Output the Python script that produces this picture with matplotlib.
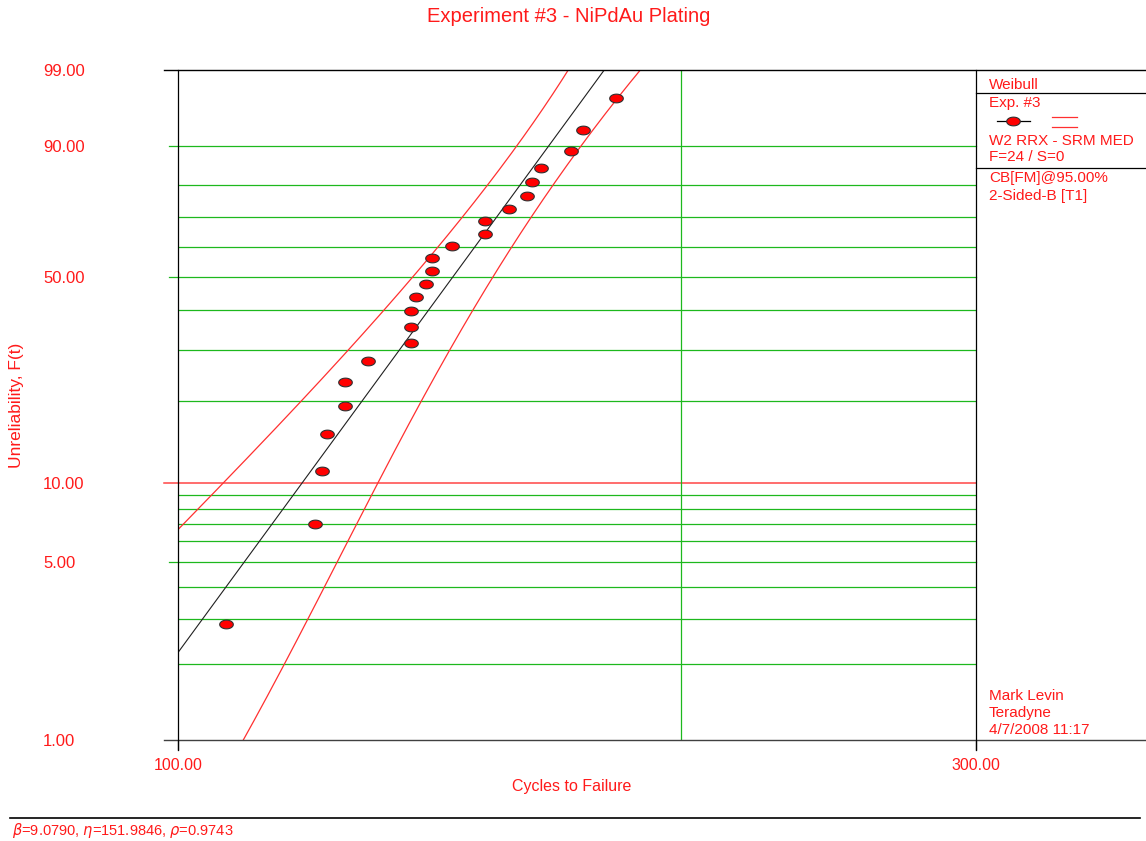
import numpy as np
import matplotlib
matplotlib.use("Agg")
import matplotlib.pyplot as plt
from matplotlib.lines import Line2D
from matplotlib.path import Path
from matplotlib.ticker import NullLocator, FixedLocator

# --- data -------------------------------------------------------------
failure_cycles = [106.8, 120.8, 121.9, 122.8, 125.8, 125.8, 129.9, 137.8,
                  137.8, 137.8, 138.8, 140.7, 141.8, 141.8, 145.9, 152.7,
                  152.7, 157.8, 161.7, 162.9, 164.8, 171.8, 174.7, 182.8]
median_rank_pct = [2.87, 6.97, 11.07, 15.16, 19.26, 23.36, 27.46, 31.56,
                   35.66, 39.75, 43.85, 47.95, 52.05, 56.15, 60.25, 64.34,
                   68.44, 72.54, 76.64, 80.74, 84.84, 88.93, 93.03, 97.13]

beta = 9.0790
eta = 151.9846
rho = 0.9743

# 95% two-sided Fisher-matrix confidence bounds
upper_cb_cycles = [99.3, 100.0, 106.7, 109.9, 112.7, 118.3, 126.1, 138.6,
                   148.1, 159.4, 170.8, 171.6]
upper_cb_pct = [6.40, 6.69, 10.03, 12.2, 14.46, 19.9, 29.6, 52.3, 68.9,
                89.8, 98.9, 99.16]
lower_cb_cycles = [109.1, 109.5, 115.6, 119.4, 124.4, 131.8, 136.1, 139.9,
                   145.4, 154.0, 162.0, 167.3, 179.6, 188.5, 189.5]
lower_cb_pct = [0.96, 1.0, 2.0, 2.99, 4.96, 10.0, 14.46, 19.9, 29.9, 50.1,
                68.9, 80.5, 94.3, 98.9, 99.16]

y_tick_pct = [1, 5, 10, 50, 90, 99]
y_tick_labels = ["1.00", "5.00", "10.00", "50.00", "90.00", "99.00"]
x_tick_vals = [100, 300]
x_tick_labels = ["100.00", "300.00"]
minor_grid_pct = [2, 3, 4, 6, 7, 8, 9, 20, 30, 40, 60, 70, 80]
major_grid_pct = [5, 50, 90]

legend_top = ["Weibull", "Exp. #3"]
legend_mid = ["W2 RRX - SRM MED", "F=24 / S=0"]
legend_cb = ["CB[FM]@95.00%", "2-Sided-B [T1]"]
legend_user = ["Mark Levin", "Teradyne", "4/7/2008 11:17"]

# --- style ------------------------------------------------------------
RED = "#FF1A1A"
GREEN = "#1DB81D"
FONT = "Liberation Sans"
plt.rcParams["font.family"] = [FONT, "DejaVu Sans"]

W, H = 1146, 841
fig = plt.figure(figsize=(W / 100, H / 100), dpi=100)
fig.patch.set_facecolor("white")

AX_L, AX_R, AX_T, AX_B = 178, 976, 70, 740
ax = fig.add_axes([AX_L / W, 1 - AX_B / H, (AX_R - AX_L) / W, (AX_B - AX_T) / H])


def fx(px):
    return px / W


def fy(py):
    return 1 - py / H


def fig_line(x0, y0, x1, y1, **kw):
    fig.add_artist(Line2D([fx(x0), fx(x1)], [fy(y0), fy(y1)],
                          transform=fig.transFigure, **kw))


# Weibull probability scale for unreliability (percent)
def weib_fwd(p):
    p = np.clip(np.asarray(p, dtype=float), 1e-6, 100 - 1e-6) / 100.0
    return np.log(-np.log(1.0 - p))


def weib_inv(w):
    return 100.0 * (1.0 - np.exp(-np.exp(np.asarray(w, dtype=float))))


ax.set_xscale("log")
ax.set_yscale("function", functions=(weib_fwd, weib_inv))
ax.set_xlim(100, 300)
ax.set_ylim(1, 99)

for s in ax.spines.values():
    s.set_visible(False)

# gridlines
ytr = ax.get_yaxis_transform()
for p in minor_grid_pct:
    ax.plot([0, 1], [p, p], transform=ytr, color=GREEN, lw=0.9, zorder=1)
for p in major_grid_pct:
    ax.plot([-9 / 798, 1], [p, p], transform=ytr, color=GREEN, lw=0.9,
            zorder=1, clip_on=False)
ax.plot([-14 / 798, 1], [10, 10], transform=ytr, color="#FF4545", lw=1.1,
        zorder=1, clip_on=False)
ax.axvline(200, color=GREEN, lw=0.9, zorder=1)

# fitted Weibull line
t_fit = np.geomspace(95, 200, 200)
f_fit = 100 * (1 - np.exp(-(t_fit / eta) ** beta))
ax.plot(t_fit, f_fit, color="#202020", lw=0.8, zorder=3)


# confidence bounds, smoothed in probability-paper coordinates
def smooth_bound(cycles, pct, deg=3):
    w = weib_fwd(pct)
    lt = np.log(cycles)
    coef = np.polyfit(w, lt, deg)
    ws = np.linspace(w.min(), w.max(), 200)
    return np.exp(np.polyval(coef, ws)), weib_inv(ws)


ux, uy = smooth_bound(upper_cb_cycles, upper_cb_pct)
lx, ly = smooth_bound(lower_cb_cycles, lower_cb_pct)
ax.plot(ux, uy, color="#FF3030", lw=0.9, zorder=3)
ax.plot(lx, ly, color="#FF3030", lw=0.9, zorder=3)

# data points (ellipse markers)
th = np.linspace(0, 2 * np.pi, 41)
ellipse = Path(np.column_stack([np.cos(th), 0.64 * np.sin(th)]), closed=True)
ax.plot(failure_cycles, median_rank_pct, linestyle="none", marker=ellipse,
        markersize=9.8, markerfacecolor="#FF0000", markeredgecolor="#303030",
        markeredgewidth=0.8, zorder=4)

# ticks
ax.xaxis.set_major_locator(FixedLocator(x_tick_vals))
ax.xaxis.set_minor_locator(NullLocator())
ax.set_xticklabels(x_tick_labels)
ax.yaxis.set_major_locator(FixedLocator(y_tick_pct))
ax.yaxis.set_minor_locator(NullLocator())
ax.set_yticklabels(y_tick_labels)
ax.tick_params(axis="x", length=7, width=0.9, color="black", pad=6,
               labelcolor=RED, labelsize=11.5)
ax.tick_params(axis="y", length=0, pad=(AX_L - 43) * 0.72, labelcolor=RED,
               labelsize=12)
for lab in ax.get_yticklabels():
    lab.set_horizontalalignment("left")

# frame lines
fig_line(164, AX_T, W, AX_T, color="black", lw=1.0)
fig_line(164, AX_B, W, AX_B, color="#404040", lw=1.0)
fig_line(AX_L, AX_T, AX_L, 750, color="black", lw=0.9)
fig_line(AX_R, AX_T, AX_R, 750, color="black", lw=0.9)
fig_line(AX_R, 93, W, 93, color="black", lw=0.9)
fig_line(AX_R, 168, W, 168, color="black", lw=0.9)
fig_line(10, 818, 1140, 818, color="black", lw=1.2)

# titles and axis labels
fig.text(fx(569), fy(16), "Experiment #3 - NiPdAu Plating", color=RED,
         fontsize=14.5, ha="center", va="center")
fig.text(fx(572), fy(786), "Cycles to Failure", color=RED, fontsize=11.5,
         ha="center", va="center")
fig.text(fx(17), fy(405), "Unreliability, F(t)", color=RED, fontsize=12.5,
         ha="center", va="center", rotation=90)

# legend panel
LX = 989
LFS = 11
for txt, yy in zip(legend_top, [85, 103]):
    fig.text(fx(LX), fy(yy), txt, color=RED, fontsize=LFS, va="center")
fig.add_artist(Line2D([fx(997), fx(1030)], [fy(121), fy(121)],
                      transform=fig.transFigure, color="black", lw=0.9))
fig.add_artist(Line2D([fx(1013)], [fy(121)], transform=fig.transFigure,
                      linestyle="none", marker=ellipse, markersize=9.8,
                      markerfacecolor="#FF0000", markeredgecolor="#303030",
                      markeredgewidth=0.8))
fig_line(1052, 117, 1077, 117, color="#FF3030", lw=0.9)
fig_line(1052, 127, 1077, 127, color="#FF3030", lw=0.9)
for txt, yy in zip(legend_mid, [141, 157]):
    fig.text(fx(LX), fy(yy), txt, color=RED, fontsize=LFS, va="center")
for txt, yy in zip(legend_cb, [178, 196]):
    fig.text(fx(LX), fy(yy), txt, color=RED, fontsize=LFS, va="center")
for txt, yy in zip(legend_user, [696, 713, 730]):
    fig.text(fx(LX), fy(yy), txt, color=RED, fontsize=LFS, va="center")

# parameter summary
fig.text(fx(12), fy(830),
         r"$\beta$=%.4f, $\eta$=%.4f, $\rho$=%.4f" % (beta, eta, rho),
         color=RED, fontsize=10.5, va="center", ha="left")

fig.savefig("out.png", dpi=100, facecolor="white")
